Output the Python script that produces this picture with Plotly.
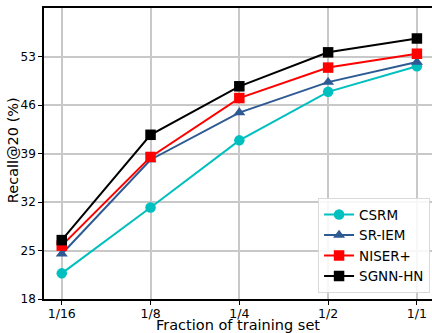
import plotly.graph_objects as go

fractions = ["1/16", "1/8", "1/4", "1/2", "1/1"]
y_ticks = [18, 25, 32, 39, 46, 53]

csrm = [21.7, 31.2, 40.9, 47.9, 51.6]
sr_iem = [24.5, 38.1, 44.9, 49.3, 52.2]
niser_plus = [25.7, 38.5, 47.0, 51.4, 53.4]
sgnn_hn = [26.5, 41.7, 48.7, 53.6, 55.6]

series = [
    ("CSRM", csrm, "#00bfbf", "circle"),
    ("SR-IEM", sr_iem, "#2e5a94", "triangle-up"),
    ("NISER+", niser_plus, "#ff0000", "square"),
    ("SGNN-HN", sgnn_hn, "#000000", "square"),
]

fig = go.Figure()
for name, vals, color, symbol in series:
    fig.add_trace(go.Scatter(
        x=list(range(len(fractions))), y=vals, name=name,
        mode="lines+markers",
        line=dict(color=color, width=2),
        marker=dict(symbol=symbol, size=10.5, color=color),
    ))

fig.update_layout(
    width=432, height=333,
    margin=dict(l=44, r=0, t=8, b=34),
    paper_bgcolor="white", plot_bgcolor="white",
    font=dict(family="DejaVu Sans", size=12.5, color="black"),
    showlegend=True,
    legend=dict(
        x=0.995, y=0.02, xanchor="right", yanchor="bottom",
        bgcolor="rgba(255,255,255,0.85)", bordercolor="#d9d9d9", borderwidth=1,
        font=dict(size=13.5), itemwidth=30, tracegroupgap=0,
    ),
)
fig.update_xaxes(
    range=[-0.2, 4.17],
    tickmode="array", tickvals=list(range(len(fractions))), ticktext=fractions,
    showgrid=True, gridcolor="#c8c8c8", gridwidth=1.5,
    showline=True, linecolor="black", linewidth=1.5, mirror=True,
    ticks="outside", ticklen=4, tickcolor="black", ticklabelstandoff=-2,
    title=dict(text="Fraction of training set", font=dict(size=14.5), standoff=3),
    zeroline=False,
)
fig.update_yaxes(
    range=[18, 60],
    tickmode="array", tickvals=y_ticks, tickfont=dict(size=12),
    showgrid=True, gridcolor="#c8c8c8", gridwidth=1.5,
    showline=True, linecolor="black", linewidth=1.5,
    ticks="outside", ticklen=4, tickcolor="black",
    zeroline=False,
)
# y-axis title, set as a rotated paper-anchored label
fig.add_annotation(
    text="Recall@20 (%)", textangle=-90, showarrow=False,
    xref="paper", yref="paper", x=-0.081, y=0.51,
    xanchor="center", yanchor="middle",
    font=dict(size=14.5),
)

fig.write_html("out.html")
